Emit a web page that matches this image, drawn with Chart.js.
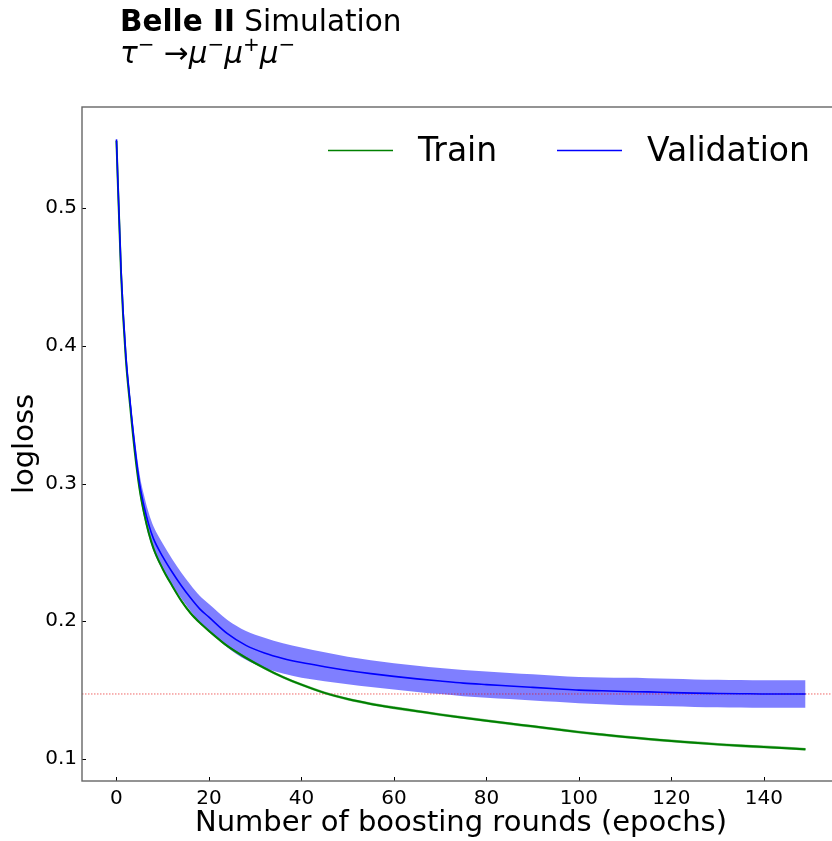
<!DOCTYPE html>
<html>
<head>
<meta charset="utf-8">
<script src="https://cdn.jsdelivr.net/npm/chart.js@4/dist/chart.umd.min.js"></script>
<style>
  html, body { margin: 0; padding: 0; background: #fff; overflow: hidden; }
  #wrap { position: relative; width: 842px; height: 841px; }
  #chart { position: absolute; left: 0; top: 0; }
  .title { position: absolute; left: 120px; font-family: 'DejaVu Sans', sans-serif; font-size: 29.5px; line-height: 34px; color: #000; white-space: nowrap; }
  .title sup { font-size: 20px; vertical-align: 0; position: relative; top: -12px; }
</style>
</head>
<body>
<div id="wrap">
  <canvas id="chart" width="842" height="841"></canvas>
  <div class="title" style="top:4px"><b>Belle II</b> Simulation</div>
  <div class="title" style="top:36px"><i>τ</i><sup>−</sup> →<i>μ</i><sup>−</sup><i>μ</i><sup>+</sup><i>μ</i><sup>−</sup></div>
</div>
<script>
const epochs = [0, 1, 2, 3, 4, 5, 6, 7, 8, 10, 12, 14, 16, 18, 20, 24, 28, 32, 36, 40,
  45, 50, 55, 60, 65, 70, 75, 80, 85, 90, 95, 100, 105, 110, 115, 120, 125, 130, 135, 140, 145, 149];

const trainMean = [0.549, 0.452, 0.392, 0.355, 0.322, 0.296, 0.278, 0.264, 0.253, 0.238,
  0.226, 0.215, 0.206, 0.199, 0.193, 0.182, 0.1735, 0.1660, 0.1595, 0.1540,
  0.1480, 0.1435, 0.1400, 0.1372, 0.1347, 0.1322, 0.1300, 0.1278, 0.1257, 0.1237,
  0.1216, 0.1195, 0.1177, 0.1160, 0.1145, 0.1131, 0.1118, 0.1106, 0.1096, 0.1087, 0.1078, 0.1070];
const trainStd = [0.001, 0.001, 0.001, 0.001, 0.001, 0.001, 0.001, 0.001, 0.001, 0.001,
  0.001, 0.001, 0.001, 0.001, 0.001, 0.001, 0.001, 0.001, 0.001, 0.001,
  0.001, 0.001, 0.001, 0.001, 0.001, 0.001, 0.001, 0.001, 0.001, 0.001,
  0.001, 0.001, 0.001, 0.001, 0.001, 0.001, 0.001, 0.001, 0.001, 0.001, 0.001, 0.001];

const valMean = [0.550, 0.455, 0.395, 0.358, 0.326, 0.300, 0.283, 0.270, 0.260, 0.247,
  0.236, 0.226, 0.217, 0.209, 0.203, 0.191, 0.1825, 0.1770, 0.1730, 0.1700,
  0.1670, 0.1643, 0.1620, 0.1600, 0.1582, 0.1566, 0.1551, 0.1540, 0.1530, 0.1520,
  0.1510, 0.1500, 0.1495, 0.1490, 0.1487, 0.1482, 0.1478, 0.1476, 0.1474, 0.1472, 0.1472, 0.1472];
const valStd = [0.001, 0.002, 0.003, 0.004, 0.006, 0.007, 0.008, 0.0085, 0.009, 0.0095,
  0.0095, 0.0095, 0.0095, 0.0095, 0.0095, 0.010, 0.0105, 0.011, 0.011, 0.011,
  0.0105, 0.010, 0.0097, 0.0095, 0.0095, 0.0095, 0.0095, 0.0095, 0.0095, 0.0095,
  0.0095, 0.0095, 0.0097, 0.0099, 0.010, 0.010, 0.010, 0.010, 0.010, 0.010, 0.010, 0.010];

const bestVal = 0.1472;           // red dotted reference line
const xTicks = [0, 20, 40, 60, 80, 100, 120, 140];
const yTicks = [0.1, 0.2, 0.3, 0.4, 0.5];
const xRange = [-7.45, 156.45];
const yRange = [0.0840, 0.5735];

const pts = (ys) => epochs.map((e, i) => ({ x: e, y: ys[i] }));
const band = (m, s, sign) => epochs.map((e, i) => ({ x: e, y: m[i] + sign * s[i] }));

Chart.defaults.font.family = "'DejaVu Sans', sans-serif";
Chart.defaults.color = '#000';

// spines + inward ticks
const framePlugin = {
  id: 'frame',
  afterDraw(chart) {
    const { ctx, chartArea: a, scales } = chart;
    ctx.save();
    ctx.strokeStyle = '#000';
    ctx.lineWidth = 1;
    scales.x.ticks.forEach(t => {
      const px = Math.round(scales.x.getPixelForValue(t.value)) + 0.5;
      ctx.beginPath(); ctx.moveTo(px, a.bottom); ctx.lineTo(px, a.bottom - 4); ctx.stroke();
    });
    scales.y.ticks.forEach(t => {
      const py = Math.round(scales.y.getPixelForValue(t.value)) + 0.5;
      ctx.beginPath(); ctx.moveTo(a.left, py); ctx.lineTo(a.left + 4, py); ctx.stroke();
    });
    ctx.strokeStyle = '#666';
    ctx.lineWidth = 1.4;
    ctx.strokeRect(a.left, a.top, a.right - a.left, a.bottom - a.top);
    ctx.restore();
  }
};

// legend drawn inside the axes, matplotlib style
const legendPlugin = {
  id: 'inlineLegend',
  afterDraw(chart) {
    const { ctx } = chart;
    const items = [chart.data.datasets[1], chart.data.datasets[0]];
    const spots = [[328, 418], [557, 647]];
    ctx.save();
    ctx.font = "33px 'DejaVu Sans', sans-serif";
    ctx.textBaseline = 'middle';
    items.forEach((ds, i) => {
      const [lx, tx] = spots[i];
      ctx.strokeStyle = ds.borderColor;
      ctx.lineWidth = 1.5;
      ctx.beginPath(); ctx.moveTo(lx, 150.5); ctx.lineTo(lx + 65, 150.5); ctx.stroke();
      ctx.fillStyle = '#000';
      ctx.fillText(ds.label, tx, 152);
    });
    ctx.restore();
  }
};

new Chart(document.getElementById('chart'), {
  type: 'line',
  data: {
    datasets: [
      { label: 'Validation', data: pts(valMean), borderColor: '#0000ff', borderWidth: 1.6, pointRadius: 0, fill: false, cubicInterpolationMode: 'monotone' },
      { label: 'Train', data: pts(trainMean), borderColor: '#008000', borderWidth: 2, pointRadius: 0, fill: false, cubicInterpolationMode: 'monotone' },
      { label: 'best', data: [{ x: xRange[0], y: bestVal }, { x: xRange[1], y: bestVal }], borderColor: 'rgba(230,0,0,0.6)', borderWidth: 1, borderDash: [1.5, 1.5], pointRadius: 0, fill: false },
      { label: 'train+', data: band(trainMean, trainStd, 1), borderWidth: 0, pointRadius: 0, fill: 4, backgroundColor: 'rgba(0,128,0,0.5)', cubicInterpolationMode: 'monotone' },
      { label: 'train-', data: band(trainMean, trainStd, -1), borderWidth: 0, pointRadius: 0, fill: false, cubicInterpolationMode: 'monotone' },
      { label: 'val+', data: band(valMean, valStd, 1), borderWidth: 0, pointRadius: 0, fill: 6, backgroundColor: 'rgba(0,0,255,0.5)', cubicInterpolationMode: 'monotone' },
      { label: 'val-', data: band(valMean, valStd, -1), borderWidth: 0, pointRadius: 0, fill: false, cubicInterpolationMode: 'monotone' }
    ]
  },
  options: {
    responsive: false,
    animation: false,
    devicePixelRatio: 1,
    layout: { padding: { top: 107, left: 0, right: 2, bottom: 0 } },
    plugins: { legend: { display: false }, tooltip: { enabled: false } },
    scales: {
      x: {
        type: 'linear', min: xRange[0], max: xRange[1],
        afterBuildTicks: s => { s.ticks = xTicks.map(v => ({ value: v })); },
        afterFit: s => { s.height = 60; },
        grid: { display: false, drawTicks: false },
        border: { display: false },
        ticks: { font: { size: 20 }, color: '#000', padding: 6, maxRotation: 0, callback: v => String(v) },
        title: { display: true, text: 'Number of boosting rounds (epochs)', font: { size: 29 }, color: '#000', padding: { top: 0, bottom: 0 } }
      },
      y: {
        type: 'linear', min: yRange[0], max: yRange[1],
        afterBuildTicks: s => { s.ticks = yTicks.map(v => ({ value: v })); },
        afterFit: s => { s.width = 82; },
        grid: { display: false, drawTicks: false },
        border: { display: false },
        ticks: { font: { size: 20 }, color: '#000', padding: 5, callback: v => v.toFixed(1) },
        title: { display: true, text: 'logloss', font: { size: 29 }, color: '#000', padding: { top: 8, bottom: 0 } }
      }
    }
  },
  plugins: [framePlugin, legendPlugin]
});
</script>
</body>
</html>
